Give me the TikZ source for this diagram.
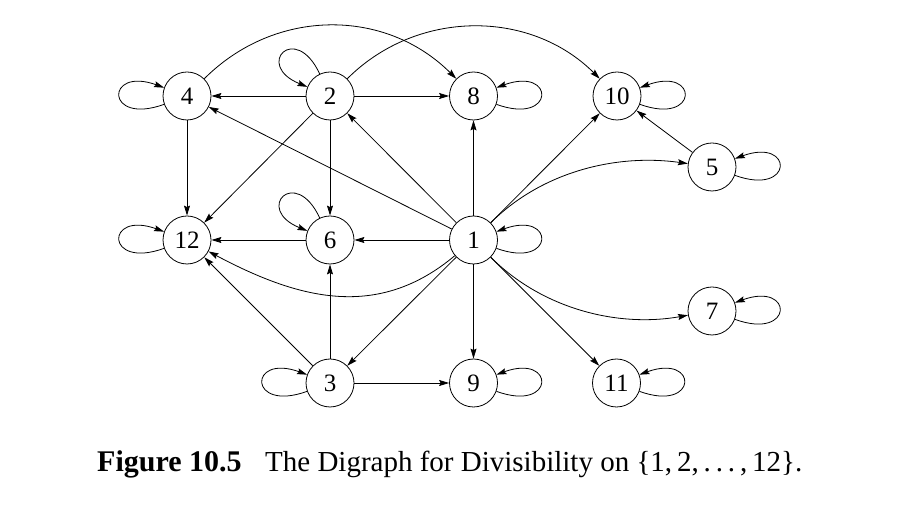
\documentclass[tikz,border=0pt]{standalone}
\usepackage{fontspec}
\setmainfont{Liberation Serif}
\usetikzlibrary{arrows.meta}
\begin{document}
\begin{tikzpicture}[x=1pt,y=1pt,
  v/.style={circle,draw,line width=0.8pt,minimum size=48pt,inner sep=0pt,font=\fontsize{25}{25}\selectfont},
  arr/.style={line width=0.8pt,-{Stealth[length=10pt,width=6pt,inset=1.5pt]}},
  capfont/.style={anchor=base west,inner sep=0pt,font=\fontsize{30}{30}\selectfont}]
\useasboundingbox (0,0) rectangle (920,516);
% nodes
\node[v] (n4) at (187,420) {4};
\node[v] (n2) at (330,420) {2};
\node[v] (n8) at (473.5,420) {8};
\node[v] (n10) at (617,420) {10};
\node[v] (n5) at (712,349) {5};
\node[v] (n12) at (187,276) {12};
\node[v] (n6) at (330,276) {6};
\node[v] (n1) at (473.5,276) {1};
\node[v] (n7) at (712,205) {7};
\node[v] (n3) at (330,133) {3};
\node[v] (n9) at (473.5,133) {9};
\node[v] (n11) at (616.5,133) {11};
% loops left
\foreach \n in {n4,n12,n3}
  \draw[arr] (\n.200) .. controls +(200:63) and +(160:63) .. (\n.160);
% loops right
\foreach \n in {n8,n10,n5,n1,n7,n9,n11}
  \draw[arr] (\n.-20) .. controls +(-20:63) and +(20:63) .. (\n.20);
% loops top-left
\foreach \n in {n2,n6}
  \draw[arr] (\n.115) .. controls +(115:58) and +(158:58) .. (\n.158);
% straight edges
\draw[arr] (n2) -- (n4);
\draw[arr] (n2) -- (n8);
\draw[arr] (n2) -- (n6);
\draw[arr] (n2) -- (n12);
\draw[arr] (n4) -- (n12);
\draw[arr] (n1) -- (n2);
\draw[arr] (n1) -- (n4);
\draw[arr] (n1) -- (n8);
\draw[arr] (n1) -- (n10);
\draw[arr] (n1) -- (n6);
\draw[arr] (n1) -- (n9);
\draw[arr] (n1) -- (n3);
\draw[arr] (n1) -- (n11);
\draw[arr] (n6) -- (n12);
\draw[arr] (n3) -- (n12);
\draw[arr] (n3) -- (n6);
\draw[arr] (n3) -- (n9);
\draw[arr] (n5) -- (n10);
% curved edges
\draw[arr] (n4) to[out=45,in=135,looseness=1.02] (n8);
\draw[arr] (n2) to[out=45,in=135,looseness=1.0] (n10);
\draw[arr] (n1) to[out=45,in=172,looseness=0.9] (n5);
\draw[arr] (n1) to[out=-45,in=190,looseness=0.9] (n7);
\draw[arr] (n1) to[out=220,in=-28,looseness=1.05] (n12);
% caption
\node[capfont,font=\fontsize{30}{30}\selectfont\bfseries] (cap1) at (97,44) {Figure 10.5};
\node[capfont,font=\fontsize{29}{29}\selectfont] (cap2) at (265,44) {The Digraph for Divisibility on \{1,\,2,\,.\kern0.17em.\kern0.17em.\,,\,12\}.};
\end{tikzpicture}
\end{document}
